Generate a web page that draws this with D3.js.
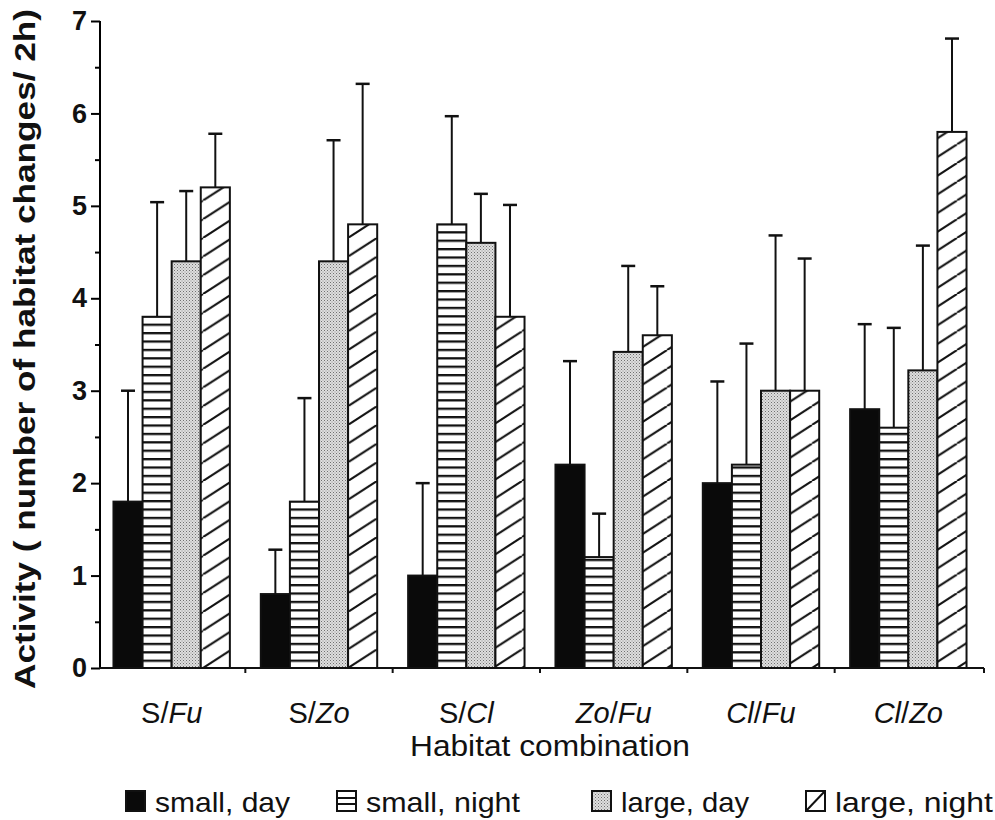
<!DOCTYPE html>
<html><head><meta charset="utf-8">
<script src="https://cdn.jsdelivr.net/npm/d3@7/dist/d3.min.js"></script>
<style>body{margin:0;background:#fff}svg{display:block}</style>
</head><body>
<svg id="chart" width="995" height="820"></svg>
<script>
// ---- data ----
const categories = ["S/Fu", "S/Zo", "S/Cl", "Zo/Fu", "Cl/Fu", "Cl/Zo"];
const seriesNames = ["small, day", "small, night", "large, day", "large, night"];
const smallDay     = [1.8, 0.8, 1.0, 2.2, 2.0, 2.8];
const smallNight   = [3.8, 1.8, 4.8, 1.2, 2.2, 2.6];
const largeDay     = [4.4, 4.4, 4.6, 3.42, 3.0, 3.22];
const largeNight   = [5.2, 4.8, 3.8, 3.6, 3.0, 5.8];
const smallDayErr   = [1.2, 0.48, 1.0, 1.12, 1.1, 0.92];
const smallNightErr = [1.24, 1.12, 1.17, 0.47, 1.31, 1.08];
const largeDayErr   = [0.76, 1.31, 0.53, 0.93, 1.68, 1.35];
const largeNightErr = [0.58, 1.52, 1.21, 0.53, 1.43, 1.01];
const yTicks = [0, 1, 2, 3, 4, 5, 6, 7];
const yMinorTicks = [0.5, 1.5, 2.5, 3.5, 4.5, 5.5, 6.5];
const yTitle = "Activity ( number of habitat changes/ 2h)";
const xTitle = "Habitat combination";

const means = [smallDay, smallNight, largeDay, largeNight];
const errs = [smallDayErr, smallNightErr, largeDayErr, largeNightErr];

const svg = d3.select("#chart");
const FONT = "'Liberation Sans', Arial, Helvetica, sans-serif";

// ---- patterns ----
const defs = svg.append("defs");
const pStripe = defs.append("pattern").attr("id", "stripe").attr("patternUnits", "userSpaceOnUse")
  .attr("width", 10).attr("height", 8.4).attr("y", 668);
pStripe.append("rect").attr("width", 10).attr("height", 8.4).attr("fill", "#fff");
pStripe.append("rect").attr("y", 0).attr("width", 10).attr("height", 2.3).attr("fill", "#111");

const pDot = defs.append("pattern").attr("id", "dots").attr("patternUnits", "userSpaceOnUse")
  .attr("width", 3).attr("height", 3);
pDot.append("rect").attr("width", 3).attr("height", 3).attr("fill", "#dedede");
pDot.append("rect").attr("x", 0).attr("y", 0).attr("width", 1).attr("height", 1).attr("fill", "#707070");
pDot.append("rect").attr("x", 1.5).attr("y", 1.5).attr("width", 1).attr("height", 1).attr("fill", "#909090");

const HW = 29, HH = 18.7;
const pHatch = defs.append("pattern").attr("id", "hatch").attr("patternUnits", "userSpaceOnUse")
  .attr("width", HW).attr("height", HH).attr("y", 668);
pHatch.append("rect").attr("width", HW).attr("height", HH).attr("fill", "#fff");
[-1, 0, 1].forEach(k => {
  pHatch.append("line").attr("x1", 0 + k * HW).attr("y1", HH).attr("x2", HW + k * HW).attr("y2", 0)
    .attr("stroke", "#111").attr("stroke-width", 2.1);
});
const fills = ["#0a0a0a", "url(#stripe)", "url(#dots)", "url(#hatch)"];

// ---- scales ----
const y = d3.scaleLinear().domain([0, 7]).range([668, 21]);
const x0 = d3.scaleBand().domain(categories).range([98, 982]).paddingInner(0.21).paddingOuter(0.105);
const x1 = d3.scaleBand().domain(seriesNames).range([0, x0.bandwidth()]);

// ---- bars ----
const rows = [];
categories.forEach((c, i) => seriesNames.forEach((s, j) => rows.push({c, s, j, v: means[j][i], e: errs[j][i]})));

const g = svg.append("g");
const eb = g.selectAll(".err").data(rows).enter().append("g");
eb.append("line")
  .attr("x1", d => x0(d.c) + x1(d.s) + x1.bandwidth() / 2)
  .attr("x2", d => x0(d.c) + x1(d.s) + x1.bandwidth() / 2)
  .attr("y1", d => y(d.v)).attr("y2", d => y(d.v + d.e))
  .attr("stroke", "#111").attr("stroke-width", 2);
eb.append("line")
  .attr("x1", d => x0(d.c) + x1(d.s) + x1.bandwidth() / 2 - 7)
  .attr("x2", d => x0(d.c) + x1(d.s) + x1.bandwidth() / 2 + 7)
  .attr("y1", d => y(d.v + d.e)).attr("y2", d => y(d.v + d.e))
  .attr("stroke", "#111").attr("stroke-width", 2.5);

g.selectAll(".bar").data(rows).enter().append("rect")
  .attr("x", d => x0(d.c) + x1(d.s))
  .attr("width", x1.bandwidth())
  .attr("y", d => y(d.v))
  .attr("height", d => y(0) - y(d.v))
  .attr("fill", d => fills[d.j])
  .attr("stroke", "#111").attr("stroke-width", 2);

// ---- axes ----
const yAxis = d3.axisLeft(y).tickValues(yTicks).tickSize(9).tickPadding(4).tickFormat(d3.format("d"));
const ya = svg.append("g").attr("transform", "translate(100,0)").call(yAxis);
ya.select(".domain").attr("stroke-width", 2).attr("d", `M0,${y(0)}V${y(7)}`);
ya.selectAll(".tick line").attr("stroke-width", 2);
ya.selectAll(".tick text").attr("font-family", FONT).attr("font-weight", "bold").attr("font-size", 27).attr("fill", "#111");
const yMinor = d3.axisLeft(y).tickValues(yMinorTicks).tickSize(5).tickFormat("");
const ym = svg.append("g").attr("transform", "translate(100,0)").call(yMinor);
ym.select(".domain").remove();
ym.selectAll(".tick line").attr("stroke-width", 2);

svg.append("line").attr("x1", 99).attr("x2", 984).attr("y1", y(0)).attr("y2", y(0))
  .attr("stroke", "#111").attr("stroke-width", 2);
const step = x0.step();
const bounds = categories.map((c, i) => x0(c) - x0.paddingInner() * step / 2).slice(1);
bounds.push(984);
svg.selectAll(".xt").data(bounds).enter().append("line")
  .attr("x1", d => d).attr("x2", d => d).attr("y1", y(0)).attr("y2", y(0) + 5)
  .attr("stroke", "#111").attr("stroke-width", 2);

// x labels
const xl = svg.selectAll(".xl").data(categories).enter().append("text")
  .attr("x", d => x0(d) + x0.bandwidth() / 2).attr("y", 723)
  .attr("text-anchor", "middle").attr("font-family", FONT).attr("font-size", 29).attr("fill", "#111");
xl.each(function(d) {
  const parts = d.split("/");
  const t = d3.select(this);
  t.append("tspan").attr("font-style", parts[0] === "S" ? "normal" : "italic").text(parts[0]);
  t.append("tspan").text("/");
  t.append("tspan").attr("font-style", "italic").text(parts[1]);
});

svg.append("text").attr("x", 550).attr("y", 756).attr("text-anchor", "middle")
  .attr("font-family", FONT).attr("font-size", 29).attr("fill", "#111")
  .attr("textLength", 280).attr("lengthAdjust", "spacingAndGlyphs").text(xTitle);

svg.append("text").attr("transform", "translate(35,349) rotate(-90)").attr("text-anchor", "middle")
  .attr("font-family", FONT).attr("font-weight", "bold").attr("font-size", 29).attr("fill", "#111")
  .attr("textLength", 680).attr("lengthAdjust", "spacingAndGlyphs")
  .text(yTitle);

// ---- legend ----
const legendX = [126, 337, 592, 806];
const legendTextW = [135, 154, 128, 158];
const lg = svg.selectAll(".lg").data(seriesNames).enter().append("g")
  .attr("transform", (d, i) => `translate(${legendX[i]},791)`);
lg.append("rect").attr("width", 19).attr("height", 20)
  .attr("fill", (d, i) => i === 0 ? "#0a0a0a" : i === 2 ? "url(#dots)" : "#fff")
  .attr("stroke", "#111").attr("stroke-width", 2);
lg.filter((d, i) => i === 1).each(function() {
  const s = d3.select(this);
  [7, 13].forEach(yy => s.append("line").attr("x1", 0).attr("x2", 19).attr("y1", yy).attr("y2", yy)
    .attr("stroke", "#111").attr("stroke-width", 2));
});
lg.filter((d, i) => i === 3).append("line").attr("x1", 0).attr("y1", 20).attr("x2", 19).attr("y2", 0)
  .attr("stroke", "#111").attr("stroke-width", 2);
lg.append("text").attr("x", 29).attr("y", 21).attr("font-family", FONT).attr("font-size", 28)
  .attr("fill", "#111").attr("textLength", (d, i) => legendTextW[i]).attr("lengthAdjust", "spacingAndGlyphs")
  .text(d => d);
</script>
</body></html>
